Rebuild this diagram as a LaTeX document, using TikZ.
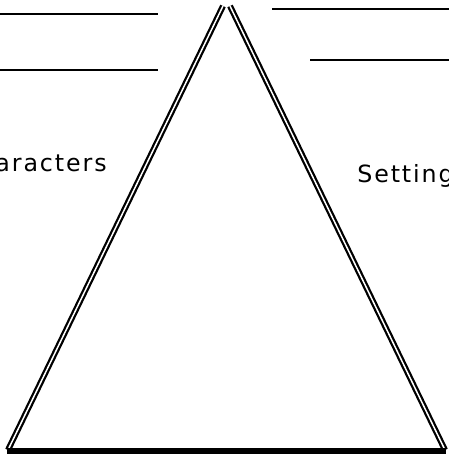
\documentclass[tikz,border=0pt]{standalone}
\usepackage{fontspec}
\setmainfont{DejaVu Sans}[LetterSpace=8]
\usetikzlibrary{positioning}
\tikzset{
  side/.style={draw=black, line width=0.045cm, double=white, double distance=0.03cm},
  base/.style={draw=black, line width=0.12cm},
  blank/.style={draw=black, line width=0.055cm},
  lbl/.style={font=\fontsize{13.5}{16}\selectfont, inner sep=0pt, anchor=base west},
}

\begin{document}
\begin{tikzpicture}[x=0.02cm, y=-0.02cm]
\useasboundingbox (0,0) rectangle (449,457);
\clip (0,0) rectangle (449,457);

% --- Blanks to fill in ---
\draw[blank] (0,14) -- (158,14);
\draw[blank] (0,70) -- (158,70);
\draw[blank] (272,9) -- (449,9);
\draw[blank] (310,60) -- (449,60);

% --- Triangle ---
\draw[side] (8,450) -- (223,6);
\draw[side] (230,6) -- (445,450);
\draw[base] (7,451) -- (446,451);

% --- Labels ---
\node[lbl, anchor=base east] (chars) at (107,171) {Characters};
\node[lbl] (setting) at (357,182) {Setting};

\end{tikzpicture}
\end{document}
